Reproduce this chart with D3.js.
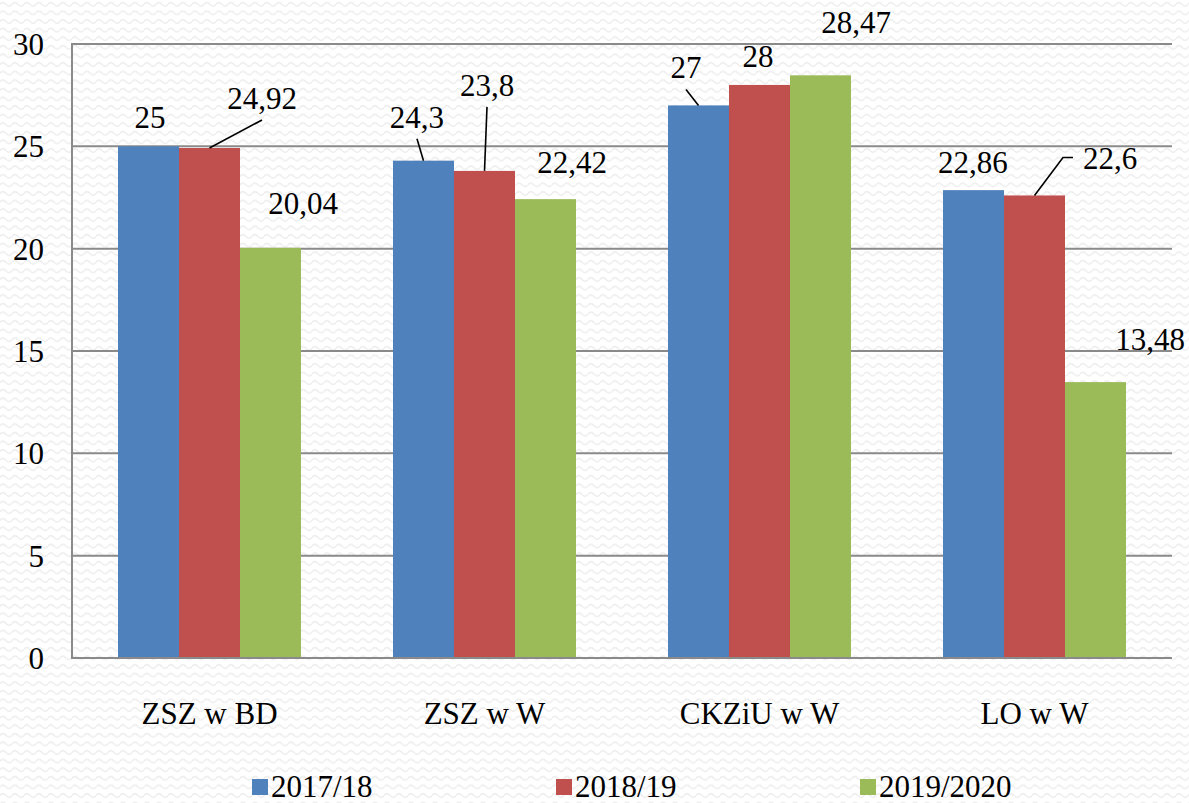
<!DOCTYPE html>
<html>
<head>
<meta charset="utf-8">
<script src="https://cdn.jsdelivr.net/npm/d3@7"></script>
<style>
  html, body { margin: 0; padding: 0; background: #fff; }
</style>
</head>
<body>
<svg width="1189" height="803"></svg>
<script>
const categories = ["ZSZ w BD", "ZSZ w W", "CKZiU w W", "LO w W"];
const seriesNames = ["2017/18", "2018/19", "2019/2020"];
const values2017 = [25, 24.3, 27, 22.86];
const values2018 = [24.92, 23.8, 28, 22.6];
const values2019 = [20.04, 22.42, 28.47, 13.48];
const yTicks = [0, 5, 10, 15, 20, 25, 30];

const colors = ["#4F81BD", "#C0504D", "#9BBB59"];
const serif = "'Liberation Serif', 'Times New Roman', serif";
const fs = 31;

// labels were dragged by hand in the original, offsets from the bar top centre
const labelMoves = [
  [{dx: 1.5, dy: -29}, {dx: 52.5, dy: -50, leader: "down"}, {dx: 32.5, dy: -45}],
  [{dx: -6.5, dy: -44, leader: "down"}, {dx: 2.5, dy: -86, leader: "down"}, {dx: 26.5, dy: -37}],
  [{dx: -12.5, dy: -38, leader: "down"}, {dx: -1.5, dy: -29}, {dx: 35.5, dy: -53}],
  [{dx: -0.5, dy: -28}, {dx: 75.5, dy: -37, leader: "side"}, {dx: 54.5, dy: -43}]
];

const allValues = [values2017, values2018, values2019];
const rows = [];
categories.forEach((c, i) => {
  seriesNames.forEach((s, j) => {
    rows.push({ cat: c, series: s, j, i, value: allValues[j][i], move: labelMoves[i][j] });
  });
});

const svg = d3.select("svg").style("font-family", serif);
const W = 1189, H = 803;
const plotL = 72, plotR = 1172, plotT = 44, plotB = 658;

// faint wavy background texture
const defs = svg.append("defs");
const pat = defs.append("pattern")
  .attr("id", "wave").attr("patternUnits", "userSpaceOnUse")
  .attr("width", 12).attr("height", 8.6);
pat.append("path")
  .attr("d", "M0,4.3 Q3,0.8 6,4.3 T12,4.3")
  .attr("fill", "none").attr("stroke", "#eeeeee").attr("stroke-width", 1.6);
svg.append("rect").attr("width", W).attr("height", H).attr("fill", "#fff");
svg.append("rect").attr("width", W).attr("height", H).attr("fill", "url(#wave)");

const x0 = d3.scaleBand().domain(categories).range([plotL, plotR])
  .paddingInner(0.3345).paddingOuter(0.3345 / 2);
const x1 = d3.scaleBand().domain(seriesNames).range([0, x0.bandwidth()]);
const y = d3.scaleLinear().domain([0, 30]).range([plotB, plotT]);

// gridlines
svg.append("g").selectAll("line")
  .data(yTicks.filter(t => t > 0))
  .join("line")
  .attr("x1", plotL).attr("x2", plotR)
  .attr("y1", d => y(d)).attr("y2", d => y(d))
  .attr("stroke", "#8a8a8a").attr("stroke-width", 2);

// bars
svg.append("g").selectAll("rect")
  .data(rows)
  .join("rect")
  .attr("x", d => x0(d.cat) + x1(d.series))
  .attr("y", d => y(d.value))
  .attr("width", x1.bandwidth())
  .attr("height", d => y(0) - y(d.value))
  .attr("fill", d => colors[d.j]);

// axes lines
svg.append("line").attr("x1", plotL).attr("x2", plotL).attr("y1", plotT - 1).attr("y2", plotB + 1)
  .attr("stroke", "#8a8a8a").attr("stroke-width", 2);
svg.append("line").attr("x1", plotL - 1).attr("x2", plotR).attr("y1", plotB).attr("y2", plotB)
  .attr("stroke", "#8a8a8a").attr("stroke-width", 2);

// y tick labels
svg.append("g").selectAll("text")
  .data(yTicks)
  .join("text")
  .attr("x", 44).attr("y", d => y(d))
  .attr("dy", "0.35em")
  .attr("text-anchor", "end")
  .attr("font-size", fs)
  .text(d => d);

// category labels
svg.append("g").selectAll("text")
  .data(categories)
  .join("text")
  .attr("x", d => x0(d) + x0.bandwidth() / 2)
  .attr("y", 713)
  .attr("dy", "0.35em")
  .attr("text-anchor", "middle")
  .attr("font-size", fs)
  .text(d => d);

// data labels
const fmt = v => String(v).replace(".", ",");
const cx = d => x0(d.cat) + x1(d.series) + x1.bandwidth() / 2;

svg.append("g").selectAll("path")
  .data(rows.filter(d => d.move.leader))
  .join("path")
  .attr("d", d => {
    const bx = cx(d), by = y(d.value);
    const lx = bx + d.move.dx, ly = by + d.move.dy;
    if (d.move.leader === "side") {
      return `M${bx},${by} L${lx - 47},${ly - 1} L${lx - 37},${ly - 1}`;
    }
    return `M${bx},${by} L${lx},${ly + 22}`;
  })
  .attr("fill", "none").attr("stroke", "#000").attr("stroke-width", 1.6);

svg.append("g").selectAll("text")
  .data(rows)
  .join("text")
  .attr("x", d => cx(d) + d.move.dx)
  .attr("y", d => y(d.value) + d.move.dy)
  .attr("dy", "0.35em")
  .attr("text-anchor", "middle")
  .attr("font-size", fs)
  .text(d => fmt(d.value));

// legend
const lx = d3.scaleLinear().domain([0, 1]).range([252, 556]);
const legend = svg.append("g").selectAll("g")
  .data(seriesNames)
  .join("g")
  .attr("transform", (d, i) => `translate(${lx(i)},779)`);
legend.append("rect")
  .attr("width", 16).attr("height", 16)
  .attr("fill", (d, i) => colors[i]);
legend.append("text")
  .attr("x", 19).attr("y", 18)
  .attr("font-size", fs)
  .text(d => d);
</script>
</body>
</html>
